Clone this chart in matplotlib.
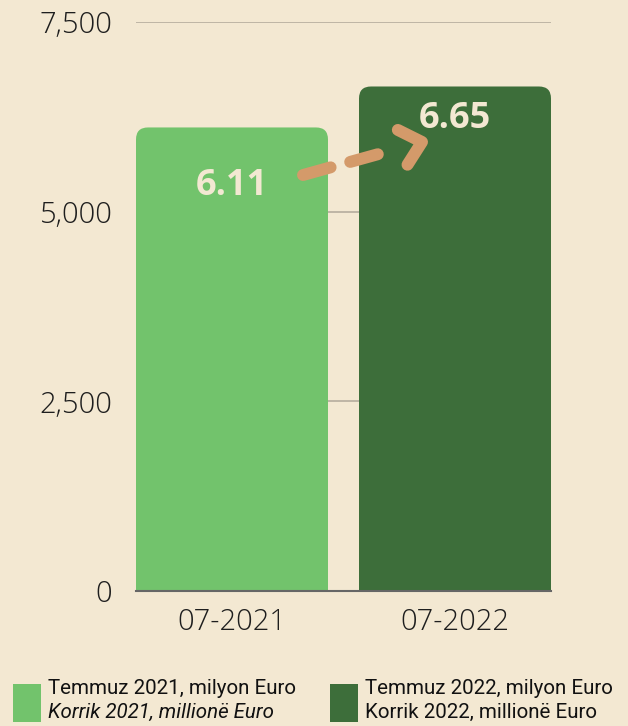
import matplotlib
matplotlib.use('Agg')
import matplotlib.pyplot as plt
import numpy as np
from matplotlib.patches import FancyBboxPatch, Rectangle
from matplotlib.ticker import FuncFormatter

# data
periods = ['07-2021', '07-2022']
values = [6110, 6650]
value_labels = ['6.11', '6.65']
colors = ['#72c36c', '#3d6e3a']
legend_line1 = ['Temmuz 2021, milyon Euro', 'Temmuz 2022, milyon Euro']
legend_line2 = ['Korrik 2021, millionë Euro', 'Korrik 2022, millionë Euro']
legend_style2 = ['italic', 'normal']
y_ticks = [0, 2500, 5000, 7500]

bg = '#f3e8d2'
fig = plt.figure(figsize=(6.28, 7.26), dpi=100, facecolor=bg)
ax = fig.add_axes([136/628, 135/726, 415/628, 569/726])
ax.set_facecolor(bg)
xlim = (-0.4305, 1.4305)
ylim = (0, 7500)
ax.set_xlim(*xlim)
ax.set_ylim(*ylim)

# gridlines behind
ax.set_yticks(y_ticks)
ax.yaxis.grid(True, color='#b5ad9e', linewidth=1.2)
ax.set_axisbelow(True)

bar_w = 0.861
bars = ax.bar(range(len(values)), values, width=bar_w, color=colors, alpha=0)

# pixel <-> data scale of this axes
x_per_px = (xlim[1] - xlim[0]) / 415
y_per_px = (ylim[1] - ylim[0]) / 569

# rounded top corners, radius ~12px
r_px = 12
for b, c in zip(bars, colors):
    x0, w, h = b.get_x(), b.get_width(), b.get_height()
    p = FancyBboxPatch((x0, 0), w, h, boxstyle='round,pad=0,rounding_size=%f' % (r_px * x_per_px),
                       mutation_aspect=y_per_px / x_per_px, facecolor=c, edgecolor='none', zorder=3)
    ax.add_patch(p)
    ax.add_patch(Rectangle((x0, 0), w, h / 2, facecolor=c, edgecolor='none', zorder=3))

# value labels
label_offsets = [772, 428]
label_y = [v - o for v, o in zip(values, label_offsets)]
for i, t in enumerate(value_labels):
    ax.text(i, label_y[i], t, ha='center', va='center', fontsize=26,
            fontweight='bold', color=bg, family='Open Sans', zorder=5)

# dashed arrow from one label to the next (offsets in pixels)
arrow_col = '#d49a6a'
lw = 8.6
start = np.array([0 + 71 * x_per_px, label_y[0] + 11 * y_per_px])
tip = np.array([1 - 33 * x_per_px, label_y[1] - 23 * y_per_px])
d_px = np.array([(tip[0] - start[0]) / x_per_px, (tip[1] - start[1]) / y_per_px])
u = d_px / np.hypot(*d_px)
line_end = start + np.array([u[0] * 78 * x_per_px, u[1] * 78 * y_per_px])
ax.plot([start[0], line_end[0]], [start[1], line_end[1]], color=arrow_col, linewidth=lw,
        dashes=(2.4, 1.7), dash_capstyle='round', zorder=6)
arms = []
for ang in [np.deg2rad(42), np.deg2rad(-42)]:
    c, s = np.cos(ang), np.sin(ang)
    back = np.array([-(u[0] * c - u[1] * s), -(u[0] * s + u[1] * c)]) * 27
    arms.append(tip + np.array([back[0] * x_per_px, back[1] * y_per_px]))
ax.plot([arms[0][0], tip[0], arms[1][0]], [arms[0][1], tip[1], arms[1][1]], color=arrow_col,
        linewidth=lw, solid_capstyle='round', solid_joinstyle='round', zorder=6)

for s in ['top', 'right', 'left']:
    ax.spines[s].set_visible(False)
ax.spines['bottom'].set_color('#666666')
ax.spines['bottom'].set_linewidth(1.5)
ax.spines['bottom'].set_zorder(4)

ax.set_xticks(range(len(periods)))
ax.set_xticklabels(periods)
ax.yaxis.set_major_formatter(FuncFormatter(lambda v, p: '{:,.0f}'.format(v)))
ax.tick_params(axis='both', length=0, labelsize=21, labelcolor='#1e1e1e')
ax.tick_params(axis='y', pad=17)
ax.tick_params(axis='x', pad=12)
for lab in ax.get_xticklabels() + ax.get_yticklabels():
    lab.set_family('Open Sans')
    lab.set_fontweight('light')

# legend
leg_x = [13, 330]
for i in range(2):
    fig.patches.append(Rectangle((leg_x[i] / 628, 4 / 726), 28 / 628, 38 / 726,
                                 transform=fig.transFigure, facecolor=colors[i], edgecolor='none'))
    fig.text((leg_x[i] + 35) / 628, 32 / 726, legend_line1[i], fontsize=14.8,
             family='Roboto', color='#111111', va='baseline')
    fig.text((leg_x[i] + 35) / 628, 8 / 726, legend_line2[i], fontsize=14.8,
             family='Roboto', style=legend_style2[i], color='#111111', va='baseline')

fig.savefig('out.png', dpi=100, facecolor=bg)
